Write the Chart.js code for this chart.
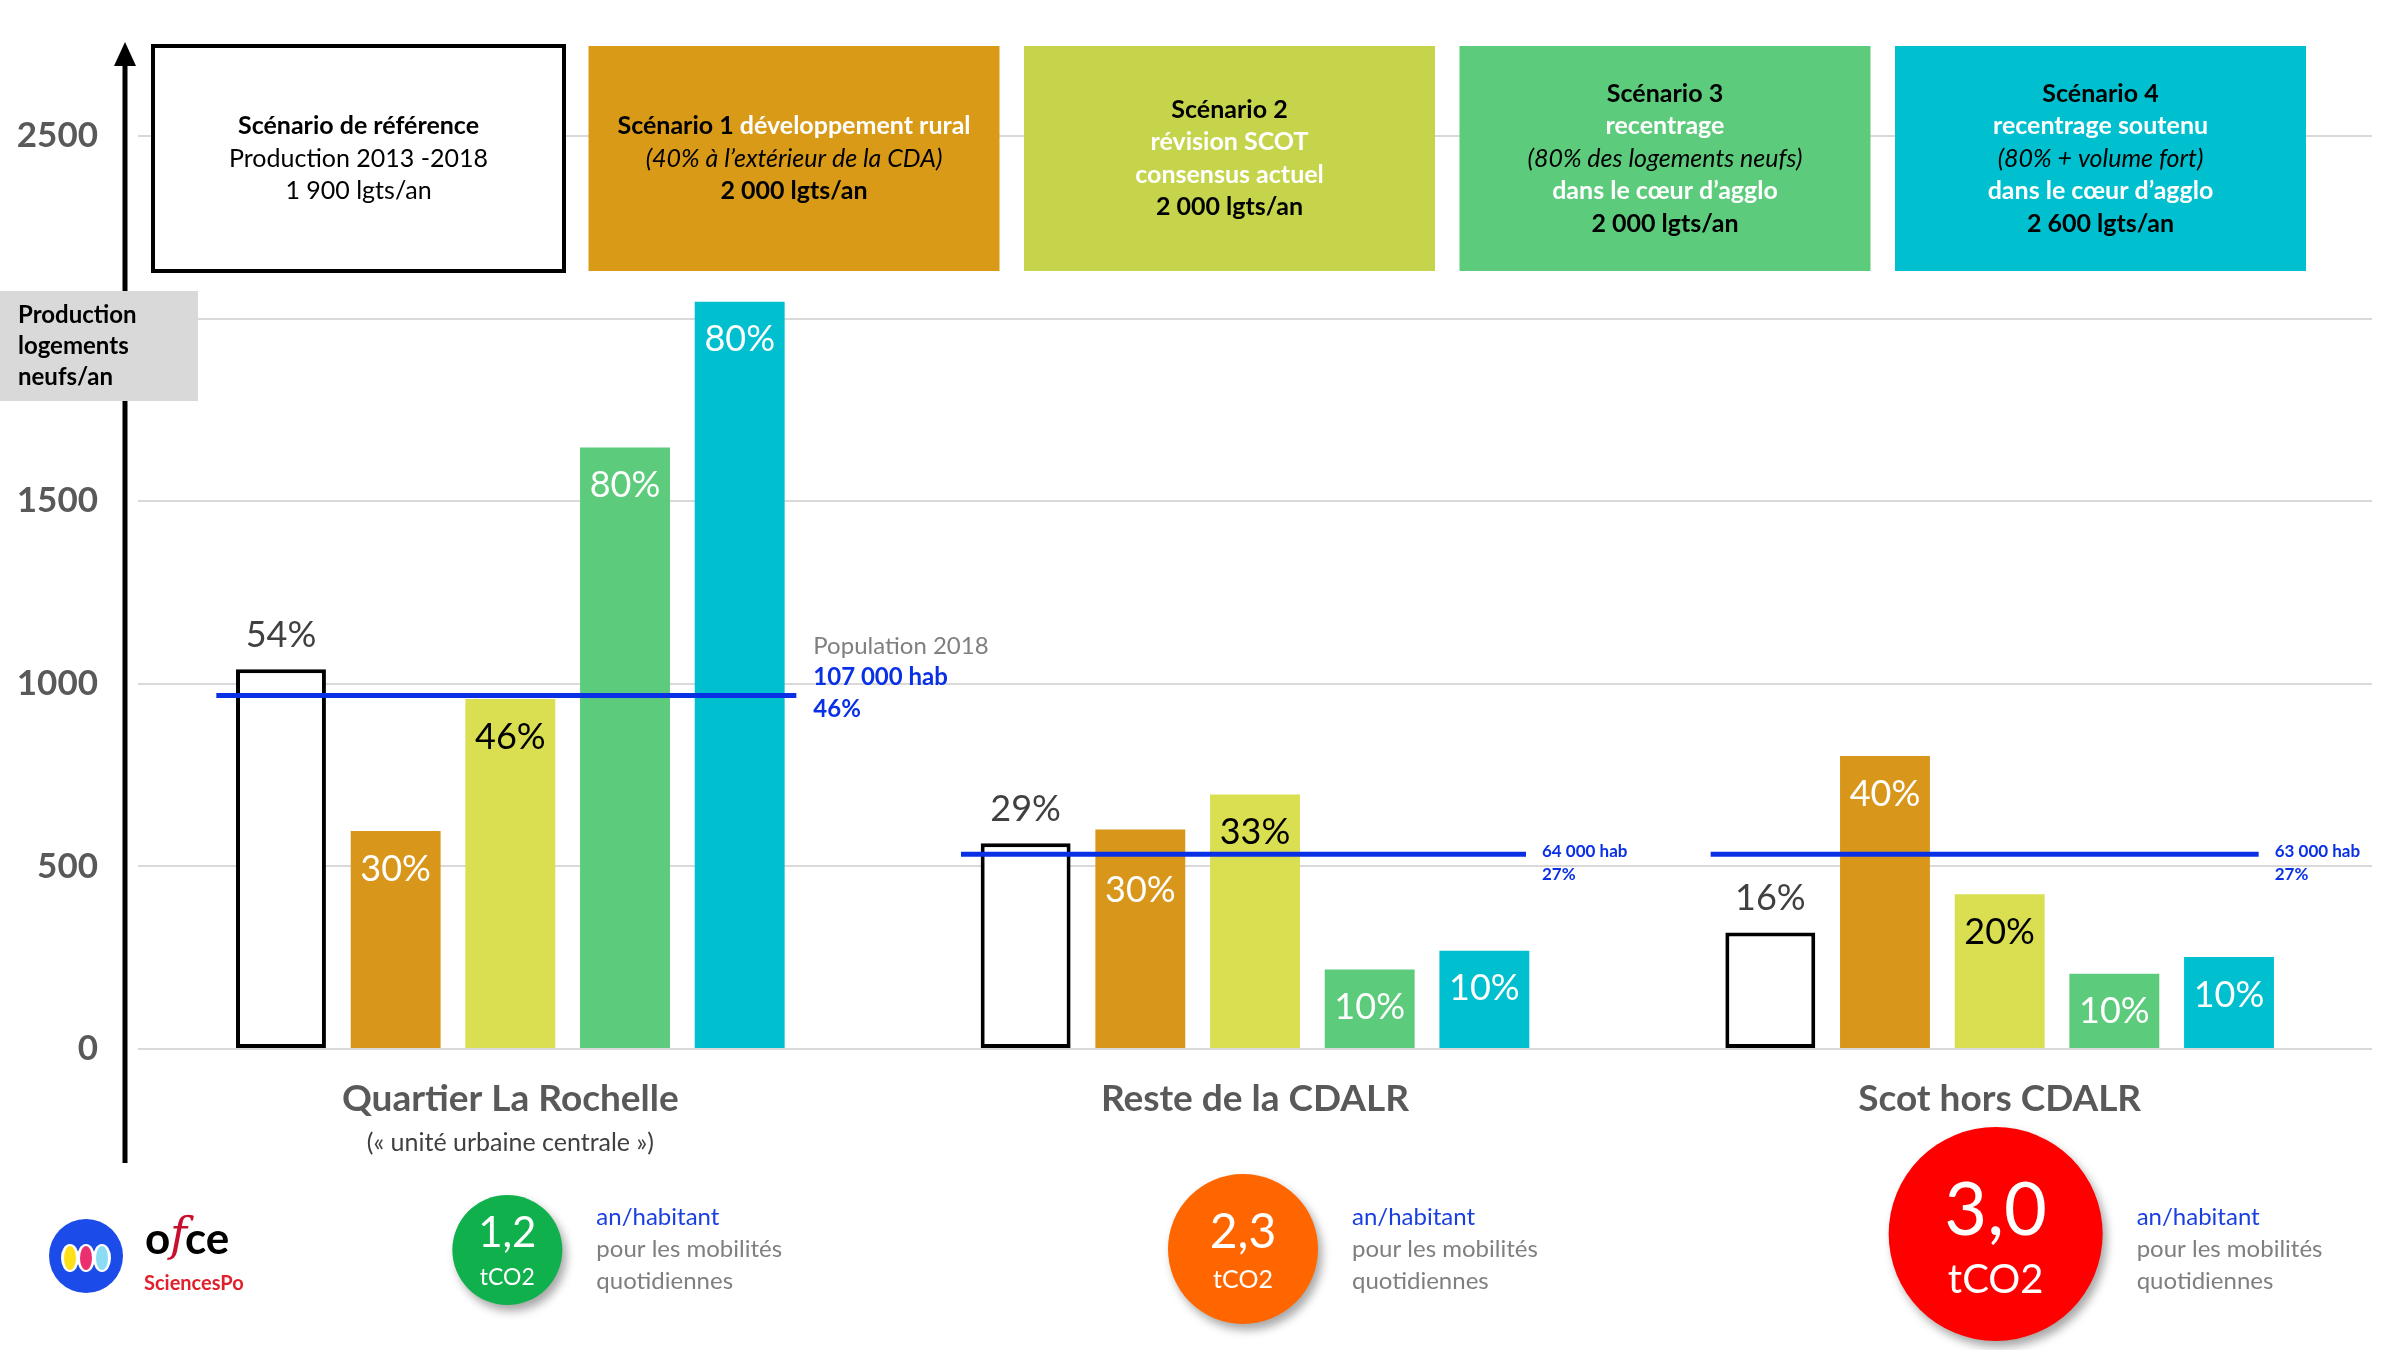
<!DOCTYPE html>
<html>
<head>
<meta charset="utf-8">
<script src="https://cdn.jsdelivr.net/npm/chart.js@4.4.0/dist/chart.umd.min.js"></script>
<style>
  html, body { margin: 0; padding: 0; background: #ffffff; }
  canvas { display: block; }
</style>
</head>
<body>
<canvas id="chart" width="2400" height="1350"></canvas>
<script>
// zones on the x axis
const zones = ['Quartier La Rochelle', 'Reste de la CDALR', 'Scot hors CDALR'];
const zoneNotes = ['(« unité urbaine centrale »)', '', ''];

// logements neufs / an
const reference = [1040, 563, 319];
const scenario1 = [597, 601, 802];
const scenario2 = [958, 697, 424];
const scenario3 = [1647, 218, 206];
const scenario4 = [2046, 269, 252];

// share of each scenario going to the zone
const referencePct = ['54%', '29%', '16%'];
const scenario1Pct = ['30%', '30%', '40%'];
const scenario2Pct = ['46%', '33%', '20%'];
const scenario3Pct = ['80%', '10%', '10%'];
const scenario4Pct = ['80%', '10%', '10%'];

// population 2018 lines
const population = [968, 533, 533];
const populationHab = ['107 000 hab', '64 000 hab', '63 000 hab'];
const populationPct = ['46%', '27%', '27%'];

// tCO2 / an / habitant
const co2 = ['1,2', '2,3', '3,0'];

const yTickValues = [0, 500, 1000, 1500, 2000, 2500];

// scenario header boxes: [text, weight, colour]
const boxFills = ['#ffffff', '#D99A18', '#C6D44C', '#5DCB7C', '#00C0D0'];
const boxLines = [
    [[['Scénario de référence', 'b', 'k']], [['Production 2013 -2018', 'r', 'k']], [['1 900 lgts/an', 'r', 'k']]],
    [[['Scénario 1 ', 'b', 'k'], ['développement rural', 'b', 'w']], [['(40% à l’extérieur de la CDA)', 'i', 'k']], [['2 000 lgts/an', 'b', 'k']]],
    [[['Scénario 2', 'b', 'k']], [['révision SCOT', 'b', 'w']], [['consensus actuel', 'b', 'w']], [['2 000 lgts/an', 'b', 'k']]],
    [[['Scénario 3', 'b', 'k']], [['recentrage', 'b', 'w']], [['(80% des logements neufs)', 'i', 'k']], [['dans le cœur d’agglo', 'b', 'w']], [['2 000 lgts/an', 'b', 'k']]],
    [[['Scénario 4', 'b', 'k']], [['recentrage soutenu', 'b', 'w']], [['(80% + volume fort)', 'i', 'k']], [['dans le cœur d’agglo', 'b', 'w']], [['2 600 lgts/an', 'b', 'k']]]
];

const FONT = 'Lato, "Open Sans", sans-serif';
const BLUE = '#0A30E6';
const pctLabels = [referencePct, scenario1Pct, scenario2Pct, scenario3Pct, scenario4Pct];
const pctColors = ['#404040', '#ffffff', '#000000', '#ffffff', '#ffffff'];

function drawParts(ctx, parts, cx, y, size) {
    const fonts = { b: 'bold ' + size + 'px ' + FONT, r: size + 'px ' + FONT, i: 'italic ' + size + 'px ' + FONT };
    const colors = { k: '#000000', w: '#ffffff' };
    let w = 0;
    parts.forEach(p => { ctx.font = fonts[p[1]]; w += ctx.measureText(p[0]).width; });
    let x = cx - w / 2;
    ctx.textAlign = 'left';
    ctx.textBaseline = 'middle';
    parts.forEach(p => {
        ctx.font = fonts[p[1]];
        ctx.fillStyle = colors[p[2]];
        ctx.fillText(p[0], x, y);
        x += ctx.measureText(p[0]).width;
    });
}

function text(ctx, str, x, y, font, color, align) {
    ctx.font = font;
    ctx.fillStyle = color;
    ctx.textAlign = align || 'center';
    ctx.textBaseline = 'middle';
    ctx.fillText(str, x, y);
}

const overlay = {
    id: 'overlay',
    afterDatasetsDraw(chart) {
        const ctx = chart.ctx;
        const xs = chart.scales.x;
        const ys = chart.scales.y;

        // percentage labels on the bars (pushed under the population line if they would sit on it)
        chart.data.datasets.forEach((ds, d) => {
            chart.getDatasetMeta(d).data.forEach((bar, i) => {
                let y = d === 0 ? bar.y - 34 : bar.y + 38;
                const popY = ys.getPixelForValue(population[i]);
                if (d > 0 && Math.abs(y - popY) < 20) y = popY + 36;
                text(ctx, pctLabels[d][i], bar.x, y, '36px ' + FONT, pctColors[d]);
            });
        });

        // population lines
        const lineLeft = [294, 294, 289];
        const lineRight = [286, 271, 259];
        ctx.save();
        zones.forEach((z, i) => {
            const cx = xs.getPixelForValue(i);
            const y = ys.getPixelForValue(population[i]);
            const x1 = cx + lineRight[i];
            ctx.strokeStyle = BLUE;
            ctx.lineWidth = 5;
            ctx.beginPath();
            ctx.moveTo(cx - lineLeft[i], y);
            ctx.lineTo(x1, y);
            ctx.stroke();
            if (i === 0) {
                text(ctx, 'Population 2018', x1 + 17, y - 49, '24px ' + FONT, '#7f7f7f', 'left');
                text(ctx, populationHab[i], x1 + 17, y - 18, 'bold 24px ' + FONT, BLUE, 'left');
                text(ctx, populationPct[i], x1 + 17, y + 14, 'bold 24px ' + FONT, BLUE, 'left');
            } else {
                text(ctx, populationHab[i], x1 + 16, y - 3, 'bold 17px ' + FONT, BLUE, 'left');
                text(ctx, populationPct[i], x1 + 16, y + 20, 'bold 17px ' + FONT, BLUE, 'left');
            }
        });
        ctx.restore();
    },
    afterDraw(chart) {
        const ctx = chart.ctx;
        const xs = chart.scales.x;
        ctx.save();

        // vertical axis with arrow
        ctx.strokeStyle = '#000000';
        ctx.lineWidth = 5;
        ctx.beginPath();
        ctx.moveTo(125, 1163);
        ctx.lineTo(125, 62);
        ctx.stroke();
        ctx.fillStyle = '#000000';
        ctx.beginPath();
        ctx.moveTo(125, 42);
        ctx.lineTo(114, 66);
        ctx.lineTo(136, 66);
        ctx.closePath();
        ctx.fill();

        // axis title box
        ctx.fillStyle = '#D9D9D9';
        ctx.fillRect(0, 291, 198, 110);
        ['Production', 'logements', 'neufs/an'].forEach((s, k) => {
            text(ctx, s, 18, 315 + k * 31, 'bold 24px ' + FONT, '#000000', 'left');
        });

        // scenario header boxes
        boxLines.forEach((lines, b) => {
            const left = 153 + b * 435.5;
            const w = 411, top = 46, h = 225;
            ctx.fillStyle = boxFills[b];
            ctx.fillRect(left, top, w, h);
            if (b === 0) {
                ctx.strokeStyle = '#000000';
                ctx.lineWidth = 4;
                ctx.strokeRect(left, top, w, h);
            }
            const cy = top + h / 2;
            lines.forEach((parts, k) => {
                const y = cy + (k - (lines.length - 1) / 2) * 32.5;
                drawParts(ctx, parts, left + w / 2, y, 25);
            });
        });

        // zone names
        zones.forEach((z, i) => {
            const cx = xs.getPixelForValue(i);
            text(ctx, z, cx, 1099, 'bold 37px ' + FONT, '#595959');
            if (zoneNotes[i]) {
                text(ctx, zoneNotes[i], cx, 1143, '25px ' + FONT, '#404040');
            }
        });

        // CO2 discs
        const discColors = ['#10B04C', '#FF6600', '#FF0000'];
        const discR = [55, 75, 107];
        const discDx = [-3, -12, -4];
        const discY = [1250, 1249, 1234];
        const numFont = [42, 48, 74];
        const numY = [1233, 1233, 1211];
        const unitFont = [23, 25, 40];
        const unitY = [1278, 1280, 1280];
        zones.forEach((z, i) => {
            const cx = xs.getPixelForValue(i) + discDx[i];
            ctx.save();
            ctx.shadowColor = 'rgba(0,0,0,0.35)';
            ctx.shadowBlur = 10;
            ctx.shadowOffsetX = 4;
            ctx.shadowOffsetY = 6;
            ctx.fillStyle = discColors[i];
            ctx.beginPath();
            ctx.arc(cx, discY[i], discR[i], 0, Math.PI * 2);
            ctx.fill();
            ctx.restore();
            text(ctx, co2[i], cx, numY[i], numFont[i] + 'px ' + FONT, '#ffffff');
            text(ctx, 'tCO2', cx, unitY[i], unitFont[i] + 'px ' + FONT, '#ffffff');
            const tx = cx + discR[i] + 34;
            text(ctx, 'an/habitant', tx, 1217, '24px ' + FONT, '#1A3FE0', 'left');
            text(ctx, 'pour les mobilités', tx, 1249, '24px ' + FONT, '#7f7f7f', 'left');
            text(ctx, 'quotidiennes', tx, 1281, '24px ' + FONT, '#7f7f7f', 'left');
        });

        // ofce / SciencesPo logo
        ctx.fillStyle = '#1B4BE8';
        ctx.beginPath();
        ctx.arc(86, 1256, 37, 0, Math.PI * 2);
        ctx.fill();
        [['#FFE11A', 70], ['#EC2F6E', 86], ['#8ADCF5', 102]].forEach(p => {
            ctx.fillStyle = '#ffffff';
            ctx.beginPath();
            ctx.ellipse(p[1], 1258, 9, 14, 0, 0, Math.PI * 2);
            ctx.fill();
            ctx.fillStyle = p[0];
            ctx.beginPath();
            ctx.ellipse(p[1], 1258, 6, 12, 0, 0, Math.PI * 2);
            ctx.fill();
        });
        text(ctx, 'o', 145, 1240, 'bold 44px ' + FONT, '#000000', 'left');
        text(ctx, 'f', 170, 1238, 'italic 46px "DejaVu Serif", serif', '#C8102E', 'left');
        text(ctx, 'ce', 185, 1240, 'bold 44px ' + FONT, '#000000', 'left');
        text(ctx, 'SciencesPo', 144, 1284, 'bold 20px ' + FONT, '#E0202C', 'left');

        ctx.restore();
    }
};

new Chart(document.getElementById('chart'), {
    type: 'bar',
    data: {
        labels: zones,
        datasets: [
            { label: 'Scénario de référence', data: reference, backgroundColor: '#ffffff', borderColor: '#000000', borderWidth: 4, borderSkipped: false },
            { label: 'Scénario 1', data: scenario1, backgroundColor: '#D8971A' },
            { label: 'Scénario 2', data: scenario2, backgroundColor: '#D9DF50' },
            { label: 'Scénario 3', data: scenario3, backgroundColor: '#5CCB7B' },
            { label: 'Scénario 4', data: scenario4, backgroundColor: '#00C0CF' }
        ]
    },
    options: {
        responsive: false,
        animation: false,
        devicePixelRatio: 1,
        // the y tick padding also pads the top of the chart area (to y = 61)
        layout: { padding: { top: 45, bottom: 301, left: 0, right: 28 } },
        datasets: { bar: { barPercentage: 0.784, categoryPercentage: 0.77 } },
        plugins: { legend: { display: false }, tooltip: { enabled: false } },
        scales: {
            x: { display: false },
            y: {
                min: 0,
                max: 2705,
                afterFit(scale) { scale.width = 138; },
                afterBuildTicks(scale) { scale.ticks = yTickValues.map(v => ({ value: v })); },
                ticks: {
                    padding: 40,
                    font: { family: FONT, size: 35, weight: 'bold' },
                    color: '#595959',
                    callback: v => String(v)
                },
                grid: { color: '#D9D9D9', lineWidth: 2, drawTicks: false },
                border: { display: false }
            }
        }
    },
    plugins: [overlay]
});
</script>
</body>
</html>
